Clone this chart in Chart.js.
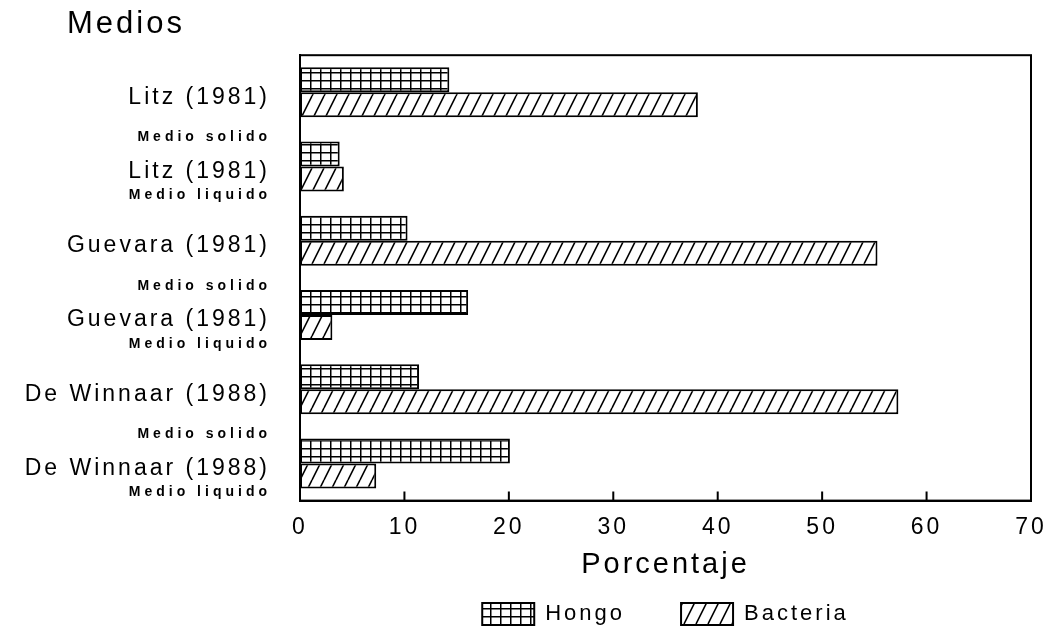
<!DOCTYPE html>
<html>
<head>
<meta charset="utf-8">
<script src="https://cdn.jsdelivr.net/npm/chart.js"></script>
<style>
  body { margin: 0; background: #fff; }
  canvas { display: block; }
</style>
</head>
<body>
<canvas id="myChart" width="1047" height="630"></canvas>
<script>
var categories = ['Litz (1981)', 'Litz (1981)', 'Guevara (1981)', 'Guevara (1981)', 'De Winnaar (1988)', 'De Winnaar (1988)'];
var medios = ['Medio solido', 'Medio liquido', 'Medio solido', 'Medio liquido', 'Medio solido', 'Medio liquido'];
var hongo = [14.3, 3.8, 10.3, 16.1, 11.4, 20.1];
var bacteria = [38.1, 4.2, 55.3, 3.1, 57.3, 7.3];
var xTicks = [0, 10, 20, 30, 40, 50, 60, 70];

var canvas = document.getElementById('myChart');
var ctx = canvas.getContext('2d');

// grid fill for Hongo
function gridPattern() {
  var t = document.createElement('canvas');
  t.width = 10; t.height = 8;
  var g = t.getContext('2d');
  g.fillStyle = '#fff';
  g.fillRect(0, 0, 10, 8);
  g.strokeStyle = '#000';
  g.lineWidth = 1.5;
  g.beginPath();
  g.moveTo(0.75, 0); g.lineTo(0.75, 8);
  g.moveTo(0, 0.75); g.lineTo(10, 0.75);
  g.stroke();
  return ctx.createPattern(t, 'repeat');
}

// diagonal hatch for Bacteria
function hatchPattern() {
  var t = document.createElement('canvas');
  t.width = 12; t.height = 24;
  var g = t.getContext('2d');
  g.fillStyle = '#fff';
  g.fillRect(0, 0, 12, 24);
  g.strokeStyle = '#000';
  g.lineWidth = 1.6;
  g.beginPath();
  for (var k = -1; k <= 1; k++) {
    g.moveTo(k * 12, 24);
    g.lineTo(k * 12 + 12, 0);
  }
  g.stroke();
  return ctx.createPattern(t, 'repeat');
}

var extras = {
  id: 'extras',
  beforeUpdate: function(chart) { chart.ctx.letterSpacing = '3px'; },
  beforeDraw: function(chart) { chart.ctx.letterSpacing = '3px'; },
  afterDraw: function(chart) {
    var c = chart.ctx, a = chart.chartArea, x = chart.scales.x, y = chart.scales.y;
    c.save();
    c.strokeStyle = '#000';
    c.lineWidth = 2;
    c.strokeRect(a.left, a.top, a.right - a.left, a.bottom - a.top);
    c.beginPath();
    x.ticks.forEach(function(t) {
      var px = x.getPixelForValue(t.value);
      c.moveTo(px, a.bottom);
      c.lineTo(px, a.bottom - 9);
    });
    c.stroke();
    c.fillStyle = '#000';
    c.textAlign = 'right';
    c.textBaseline = 'middle';
    categories.forEach(function(name, i) {
      var py = y.getPixelForValue(i);
      c.font = '23px "Liberation Sans"';
      c.letterSpacing = '3px';
      c.fillText(name, 270, py + 5);
      c.font = 'bold 14px "Liberation Sans"';
      c.letterSpacing = '4px';
      c.fillText(medios[i], 271, py + (medios[i] == 'Medio solido' ? 45 : 29));
    });
    c.restore();
  }
};

Chart.defaults.font.family = '"Liberation Sans", Arial, sans-serif';
Chart.defaults.color = '#000';

var myChart = new Chart(canvas, {
  type: 'bar',
  data: {
    labels: categories,
    datasets: [
      {
        label: 'Hongo',
        data: hongo,
        backgroundColor: gridPattern(),
        borderColor: '#000',
        borderWidth: 2,
        borderSkipped: false
      },
      {
        label: 'Bacteria',
        data: bacteria,
        backgroundColor: hatchPattern(),
        borderColor: '#000',
        borderWidth: 2,
        borderSkipped: false
      }
    ]
  },
  options: {
    indexAxis: 'y',
    responsive: false,
    animation: false,
    categoryPercentage: 0.674,
    barPercentage: 1,
    layout: { padding: { left: 67, right: 16, top: 0, bottom: -5 } },
    plugins: {
      tooltip: { enabled: false },
      title: {
        display: true,
        text: 'Medios',
        align: 'start',
        font: { size: 31, weight: 'normal' },
        padding: { top: 6, bottom: 12 }
      },
      legend: {
        position: 'bottom',
        fullSize: false,
        labels: {
          boxWidth: 52,
          boxHeight: 22,
          padding: 56,
          font: { size: 22 }
        }
      }
    },
    scales: {
      x: {
        min: 0,
        max: 70,
        afterBuildTicks: function(s) { s.ticks = xTicks.map(function(v) { return { value: v }; }); },
        grid: { display: false, drawTicks: true, tickLength: 13 },
        border: { display: true, color: '#000', width: 2 },
        ticks: { padding: 0, font: { size: 23 } },
        title: {
          display: true,
          text: 'Porcentaje',
          font: { size: 29 },
          padding: { top: 6, bottom: -35 }
        }
      },
      y: {
        grid: { display: false, drawTicks: false },
        border: { display: true, color: '#000', width: 2 },
        ticks: { display: false },
        afterFit: function(s) { s.width = 233; }
      }
    }
  },
  plugins: [extras]
});
</script>
</body>
</html>
